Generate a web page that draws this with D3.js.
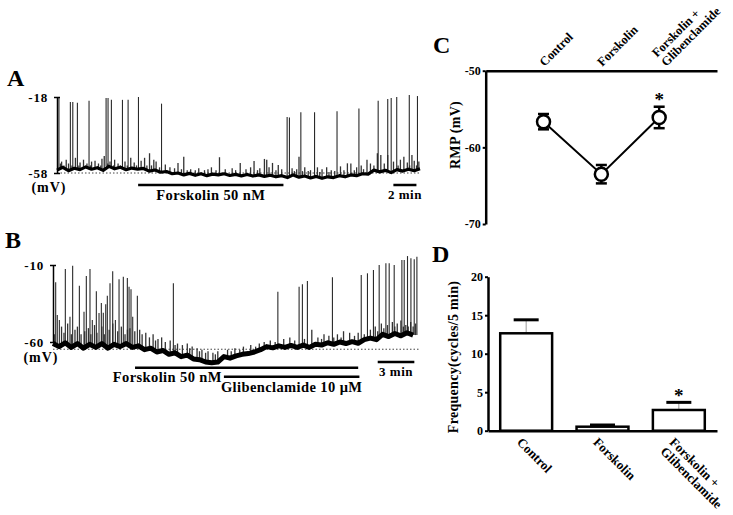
<!DOCTYPE html>
<html>
<head>
<meta charset="utf-8">
<script src="https://cdn.jsdelivr.net/npm/d3@7/dist/d3.min.js"></script>
<style>
  html, body { margin: 0; padding: 0; background: #fff; }
  svg { display: block; }
  text { font-family: "Liberation Serif", "Times New Roman", serif; font-weight: bold; fill: #000; }
</style>
</head>
<body>
<svg id="chart" width="733" height="515"></svg>
<script>
// ---------------- DATA ----------------
// Panel A: membrane potential trace (mV), baseline sampled every 0.5 min
const stepA = 0.5;
const baseA = [-56.5,-55.0,-56.8,-55.5,-56.2,-54.8,-56.0,-55.2,-56.6,-54.5,-55.8,-55.0,-56.3,-55.4,-56.0,-55.6,
  -57.0,-56.4,-57.6,-57.2,-58.4,-58.0,-59.0,-58.2,-59.2,-58.4,-59.4,-58.6,-59.0,-58.4,-59.3,-58.7,
  -59.5,-58.8,-59.6,-59.0,-59.8,-59.2,-60.0,-59.4,-60.4,-59.0,-60.2,-59.6,-60.6,-59.8,-60.8,-60.0,
  -60.4,-59.4,-60.0,-59.0,-59.4,-58.4,-58.6,-56.5,-57.4,-56.6,-57.8,-56.2,-57.0,-56.0,-56.8,-55.8];
// action potentials: [time (min), peak (mV)]
const spikesA = [[0.17,-18.5],[1.16,-20.6],[1.37,-20.6],[1.77,-21],[2.78,-20],[4.26,-18.5],[4.43,-18.5],
  [4.72,-19.5],[5.68,-19.5],[6.17,-19.5],[7.07,-18],[9.07,-21.5],
  [19.97,-28.5],[20.17,-28.8],[21.16,-26],[22.35,-26],[24.3,-25.5],[26.2,-24],[27.87,-20],[28.7,-19],
  [29.0,-18.5],[29.48,-18],[30.57,-17],[31.28,-17.5]];
// small depolarisations: [time (min), peak (mV)]
const smallA = [[0.3,-53],[0.4,-52],[0.6,-54],[0.8,-51],[1.0,-53],[1.3,-54],[1.6,-50],[1.9,-54],[2.0,-52.5],[2.3,-51],[2.6,-53],[2.9,-54],[3.0,-52],[3.3,-51.5],
  [3.6,-53],[3.8,-54],[3.9,-50.5],[4.1,-49],[4.4,-53],[4.6,-52],[4.9,-54],[5.0,-51],[5.3,-53],[5.5,-54],[5.9,-52],[6.1,-54],[6.4,-50],[6.7,-52.5],[6.9,-54],[7.3,-51.5],
  [7.6,-50],[7.8,-54],[8.03,-47.6],[8.2,-54],[8.4,-51],[8.6,-52],[8.9,-55],[9.4,-53.5],[9.8,-55],[10.2,-55.5],[10.5,-52.7],[10.8,-56],[11.0,-49.4],
  [11.3,-56.5],[11.6,-56],[12.0,-56.5],[12.3,-55.5],[12.8,-56.5],[13.1,-56],[13.4,-55],[13.8,-56.5],[14.1,-49.7],[14.6,-56],[15.2,-55.5],[15.5,-56.5],[15.9,-52.7],[16.4,-56],
  [16.8,-55],[17.1,-51.7],[17.4,-56.5],[17.6,-55.5],[18.0,-50.6],[18.2,-51],[18.4,-55],[18.7,-52.7],[19.0,-56.5],[19.2,-53.8],[19.5,-56],
  [20.4,-55.5],[20.6,-57],[20.8,-56],[21.0,-49.4],[21.3,-57],[21.5,-55],[21.8,-57],[22.0,-56.5],[22.6,-55],[22.8,-57.5],[23.0,-56],[23.4,-55],[23.6,-57.5],[23.8,-56.5],
  [24.1,-57],[24.6,-54.5],[24.9,-56.5],[25.2,-52.9],[25.5,-53],[25.8,-56.5],[26.0,-55],[26.4,-54],[26.6,-56],[26.9,-51],[27.2,-53],[27.5,-54],[27.8,-47.6],[28.1,-48.5],
  [28.4,-53],[28.7,-48.5],[29.2,-52],[29.6,-54],[29.8,-51],[30.1,-49.4],[30.4,-52.5],[30.6,-54],[30.8,-48.5],[31.0,-51.5],[31.2,-54],[31.4,-52]];
const drugsA = [{label: "Forskolin 50 nM", start: 7.04, end: 19.65}];
const scaleBarA = {label: "2 min", start: 29.19, dur: 2};
const ticksA = [-18, -58];
const dottedA = -58;

// Panel B
const stepB = 0.5;
const baseB = [-61,-63,-60.5,-63.5,-61,-64,-61.5,-63.5,-61,-64,-61.5,-63,-61,-63.5,
  -62.5,-65,-64,-66.5,-65.5,-68,-67,-69.5,-68.5,-71,-71.5,-73,-73.5,-73,-69.5,-70.5,
  -69,-68,-67.5,-66.5,-65,-63,-63.8,-62.5,-63.5,-62.2,-63.5,-62,-63.5,-61.5,-62,-60.5,
  -61.5,-60,-61,-59.8,-60.8,-58.5,-57.5,-58.5,-55,-56.5,-54.5,-56,-54,-55.5];
const spikesB = [[0.22,-21.2],[0.35,-42.5],[0.52,-45.7],[1.01,-12.6],[1.39,-43.6],[1.61,-10.5],[2.16,-23.4],
  [2.54,-40.3],[2.73,-17.1],[3.03,-12.6],[3.22,-45.7],[3.55,-27.1],[3.77,-41.2],[3.96,-34.7],[4.12,-41],
  [4.32,-35.5],[4.45,-29.9],[4.67,-21.9],[4.89,-14.1],[5.11,-45.7],[5.41,-19.3],[5.76,-17.6],[6.09,-18.4],
  [6.23,-24.1],[6.39,-25.8],[6.53,-43.6],[6.91,-29.9],[9.86,-21.9],[18.42,-27.3],[20.16,-24.1],[20.43,-22.5],
  [20.84,-20.4],[22.89,-18],[25.25,-16.5],[25.76,-15.4],[26.25,-13.2],[26.72,-10],[27.27,-8.9],[27.54,-8.9],
  [27.95,-10],[28.58,-6.8],[28.77,-6.8],[29.04,-4.2],[29.32,-5.6],[29.59,-6.3],[29.81,-4.6]];
const smallB = [[0.1,-55],[0.7,-50],[0.9,-54],[1.2,-48],[1.5,-55],[1.8,-52],[2.0,-50],[2.3,-55],[2.6,-53],[2.9,-51],[3.1,-55],[3.4,-49],[3.6,-54],
  [4.0,-50],[4.2,-55],[4.6,-52],[4.9,-48],[5.3,-53],[5.6,-50],[5.9,-55],[6.1,-52],[6.3,-51],[6.7,-53],[7.1,-52],[7.3,-55],
  [7.6,-54],[7.9,-57],[8.2,-55],[8.4,-59],[8.6,-58],[8.9,-57],[9.2,-60],[9.6,-59],[10.0,-62],[10.2,-61],[10.6,-62],[11.0,-61],
  [11.2,-64],[11.4,-63],[11.8,-64],[12.0,-66],[12.2,-65],[12.5,-67],[12.7,-66],[13.1,-67],[13.3,-68],[13.5,-66],[14.3,-65],[14.6,-66],[14.9,-64],[15.3,-65],[15.6,-63],
  [16.2,-62],[16.6,-63],[16.9,-61],[17.3,-60],[17.8,-59],[18.2,-60],[18.9,-58],[19.4,-57],[19.8,-59],[20.6,-58],[21.2,-52],[21.7,-57],[22.0,-58],[22.2,-55],
  [22.6,-56],[23.0,-57],[23.3,-55],[23.6,-57],[23.8,-53],[24.3,-54],[24.7,-56],[25.0,-54],[25.5,-55],[26.0,-52],[26.4,-50],[26.6,-53],[26.9,-48],
  [27.1,-51],[27.4,-49],[27.8,-47],[28.0,-50],[28.2,-48],[28.5,-46],[28.7,-50],[28.9,-49],[29.1,-50],[29.3,-47],[29.5,-50],[29.7,-48]];
const drugsB = [{label: "Forskolin 50 nM", start: 6.72, end: 25.0},
                {label: "Glibenclamide 10 \u03bcM", start: 14.0, end: 25.1}];
const scaleBarB = {label: "3 min", start: 26.6, dur: 3};
const ticksB = [-10, -60];
const dottedB = -64.7;

// Panel C: resting membrane potential
const categories = [["Control"], ["Forskolin"], ["Forskolin +", "Glibenclamide"]];
const catKeys = ["Control", "Forskolin", "Forskolin + Glibenclamide"];
const rmpMean = [-56.65, -63.5, -56.1];
const rmpErr = [1.0, 1.2, 1.4];
const rmpSig = [false, false, true];
const ticksC = [-50, -60, -70];

// Panel D: frequency
const freqMean = [12.65, 0.52, 2.69];
const freqErr = [1.75, 0.22, 0.99];
const freqSig = [false, false, true];
const ticksD = [0, 5, 10, 15, 20];

// ---------------- DRAWING ----------------
const svg = d3.select("#chart");
svg.append("rect").attr("width", 733).attr("height", 515).attr("fill", "#fff");
const hyph = d => String(d);

function panelLetter(t, x, y) {
  svg.append("text").attr("x", x).attr("y", y).attr("font-size", 24).text(t);
}
panelLetter("A", 7, 86);
panelLetter("B", 5, 248);
panelLetter("C", 433, 53);
panelLetter("D", 432, 262);

function trace(cfg) {
  const g = svg.append("g");
  const {x, y, base, step, spikes, small, ticks, dotted, drugs, scaleBar} = cfg;
  const footAt = t => base[Math.min(base.length - 1, Math.round(t / step))];
  g.append("line").attr("x1", x.range()[0]).attr("x2", 420)
    .attr("y1", y(dotted)).attr("y2", y(dotted))
    .attr("stroke", "#444").attr("stroke-width", 1).attr("stroke-dasharray", "1.5,2");
  g.selectAll(".sm").data(small).join("line")
    .attr("x1", d => x(d[0])).attr("x2", d => x(d[0]))
    .attr("y1", d => y(footAt(d[0]))).attr("y2", d => y(d[1]))
    .attr("stroke", "#333").attr("stroke-width", 1.3);
  g.selectAll(".sp").data(spikes).join("line")
    .attr("x1", d => x(d[0])).attr("x2", d => x(d[0]))
    .attr("y1", d => y(footAt(d[0]))).attr("y2", d => y(d[1]))
    .attr("stroke", "#2a2a2a").attr("stroke-width", 1.1);
  const line = d3.line().x((d, i) => x(i * step)).y(d => y(d));
  g.append("path").attr("d", line(base)).attr("fill", "none")
    .attr("stroke", "#000").attr("stroke-width", cfg.bw).attr("stroke-linejoin", "round");
  const ax = g.append("g").attr("transform", `translate(${x.range()[0]},0)`)
    .call(d3.axisLeft(y).tickValues(ticks).tickFormat(hyph).tickSize(3).tickSizeOuter(0).tickPadding(6));
  ax.select(".domain").attr("stroke-width", 1.5);
  ax.selectAll(".tick line").attr("x1", -3).attr("x2", 3).attr("stroke-width", 1.5);
  ax.selectAll(".tick text").attr("font-size", 13).attr("letter-spacing", 0.8)
    .attr("font-family", "Liberation Serif, serif").attr("font-weight", "bold");
  g.append("text").attr("x", cfg.mvX).attr("y", cfg.mvY).attr("text-anchor", "middle")
    .attr("font-size", 14).attr("letter-spacing", 1).text("(mV)");
  drugs.forEach((d, i) => {
    const yy = cfg.barY[i];
    g.append("line").attr("x1", x(d.start)).attr("x2", x(d.end)).attr("y1", yy).attr("y2", yy)
      .attr("stroke", "#000").attr("stroke-width", 2.5);
    const lab = g.append("text").attr("y", cfg.labY[i]).attr("font-size", 14.5)
      .attr("letter-spacing", 0.4).text(d.label);
    if (cfg.labMode[i] === "middle") lab.attr("x", (x(d.start) + x(d.end)) / 2).attr("text-anchor", "middle");
    else lab.attr("x", x(drugs[1].start) - 2).attr("text-anchor", "end");
  });
  const sx0 = x(scaleBar.start), sx1 = x(scaleBar.start + scaleBar.dur);
  g.append("line").attr("x1", sx0).attr("x2", sx1).attr("y1", cfg.sbY).attr("y2", cfg.sbY)
    .attr("stroke", "#000").attr("stroke-width", 2.5);
  g.append("text").attr("x", (sx0 + sx1) / 2).attr("y", cfg.sbY + 14).attr("text-anchor", "middle")
    .attr("font-size", 13).attr("letter-spacing", 0.5).text(scaleBar.label);
}

trace({
  x: d3.scaleLinear().domain([0, 31.5]).range([57, 420]),
  y: d3.scaleLinear().domain([-58, -18]).range([173, 97]),
  base: baseA, step: stepA, spikes: spikesA, small: smallA, ticks: ticksA, dotted: dottedA,
  drugs: drugsA, scaleBar: scaleBarA, bw: 3.2,
  mvX: 49, mvY: 192, barY: [185], labY: [200], labMode: ["middle"], sbY: 185
});

trace({
  x: d3.scaleLinear().domain([0, 29.9]).range([53, 418]),
  y: d3.scaleLinear().domain([-60, -10]).range([342, 265]),
  base: baseB, step: stepB, spikes: spikesB, small: smallB, ticks: ticksB, dotted: dottedB,
  drugs: drugsB, scaleBar: scaleBarB, bw: 5,
  mvX: 41, mvY: 362, barY: [367.7, 376.7], labY: [382, 392], labMode: ["end", "middle"], sbY: 362
});

// ---------- Panel C ----------
{
  const x = d3.scalePoint().domain(catKeys).range([485.7, 717]).padding(1);
  const y = d3.scaleLinear().domain([-70, -50]).range([224, 70.7]);
  const g = svg.append("g");
  const ay = g.append("g").attr("transform", "translate(485.7,0)")
    .call(d3.axisLeft(y).tickValues(ticksC).tickFormat(hyph).tickSize(3).tickSizeOuter(0).tickPadding(2));
  ay.select(".domain").attr("stroke-width", 2.5);
  ay.selectAll(".tick line").attr("stroke-width", 2);
  ay.selectAll(".tick text").attr("font-size", 12).attr("font-family", "Liberation Serif, serif").attr("font-weight", "bold");
  const at = g.append("g").attr("transform", `translate(0,${y(-50)})`)
    .call(d3.axisTop(x).tickSize(0).tickSizeOuter(0).tickFormat(""));
  at.select(".domain").attr("stroke-width", 2.5);
  categories.forEach((lines, i) => {
    const cx = x(catKeys[i]);
    const xoff = lines.length > 1 ? 7 : 1;
    const t = g.append("text").attr("transform", `translate(${cx + xoff},67) rotate(-45)`)
      .attr("font-size", 12.5);
    lines.forEach((l, j) => t.append("tspan").attr("x", 0).attr("y", (j - (lines.length - 1)) * 13).text(l));
  });
  g.append("text").attr("transform", `translate(460,135) rotate(-90)`)
    .attr("text-anchor", "middle").attr("font-size", 14).attr("letter-spacing", 0.3).text("RMP (mV)");
  g.append("path").attr("d", d3.line().x((d, i) => x(catKeys[i])).y(d => y(d))(rmpMean))
    .attr("fill", "none").attr("stroke", "#000").attr("stroke-width", 2);
  rmpMean.forEach((m, i) => {
    const cx = x(catKeys[i]);
    g.append("line").attr("x1", cx).attr("x2", cx).attr("y1", y(m - rmpErr[i])).attr("y2", y(m + rmpErr[i]))
      .attr("stroke", "#000").attr("stroke-width", 2.5);
    [m - rmpErr[i], m + rmpErr[i]].forEach(v => g.append("line")
      .attr("x1", cx - 5.5).attr("x2", cx + 5.5).attr("y1", y(v)).attr("y2", y(v))
      .attr("stroke", "#000").attr("stroke-width", 2.5));
  });
  g.selectAll("circle").data(rmpMean).join("circle")
    .attr("cx", (d, i) => x(catKeys[i])).attr("cy", d => y(d)).attr("r", 6.5)
    .attr("fill", "#fff").attr("stroke", "#000").attr("stroke-width", 2.5);
  rmpMean.forEach((m, i) => {
    if (rmpSig[i]) g.append("text").attr("x", x(catKeys[i])).attr("y", y(m + rmpErr[i]) - 1)
      .attr("text-anchor", "middle").attr("font-size", 19).attr("font-weight", "normal").text("*");
  });
}

// ---------- Panel D ----------
{
  const x = d3.scaleBand().domain(catKeys).range([488, 717]).paddingInner(0.32).paddingOuter(0.16);
  const y = d3.scaleLinear().domain([0, 20]).range([430.7, 276.7]);
  const g = svg.append("g");
  freqMean.forEach((m, i) => {
    const cx = x(catKeys[i]) + x.bandwidth() / 2;
    g.append("line").attr("x1", cx).attr("x2", cx).attr("y1", y(m)).attr("y2", y(m + freqErr[i]))
      .attr("stroke", "#999").attr("stroke-width", 1);
  });
  g.selectAll("rect.bar").data(freqMean).join("rect").attr("class", "bar")
    .attr("x", (d, i) => x(catKeys[i])).attr("width", x.bandwidth())
    .attr("y", d => y(d)).attr("height", d => y(0) - y(d))
    .attr("fill", "#fff").attr("stroke", "#000").attr("stroke-width", 2.5);
  freqMean.forEach((m, i) => {
    const cx = x(catKeys[i]) + x.bandwidth() / 2;
    g.append("line").attr("x1", cx - 12.5).attr("x2", cx + 12.5)
      .attr("y1", y(m + freqErr[i])).attr("y2", y(m + freqErr[i]))
      .attr("stroke", "#000").attr("stroke-width", 3);
    if (freqSig[i]) g.append("text").attr("x", cx).attr("y", y(m + freqErr[i]) - 0.5)
      .attr("text-anchor", "middle").attr("font-size", 19).attr("font-weight", "normal").text("*");
  });
  const ay = g.append("g").attr("transform", "translate(488,0)")
    .call(d3.axisLeft(y).tickValues(ticksD).tickFormat(hyph).tickSize(3).tickSizeOuter(0).tickPadding(2));
  ay.select(".domain").attr("stroke-width", 2.5);
  ay.selectAll(".tick line").attr("stroke-width", 2);
  ay.selectAll(".tick text").attr("font-size", 12).attr("font-family", "Liberation Serif, serif").attr("font-weight", "bold");
  const ab = g.append("g").attr("transform", `translate(0,${y(0)})`)
    .call(d3.axisBottom(x).tickSize(0).tickSizeOuter(0).tickFormat(""));
  ab.select(".domain").attr("stroke-width", 2.5);
  categories.forEach((lines, i) => {
    const cx = x(catKeys[i]) + x.bandwidth() / 2;
    const t = g.append("text").attr("transform", `translate(${cx - 10},443) rotate(45)`)
      .attr("font-size", 13);
    lines.forEach((l, j) => t.append("tspan").attr("x", 0).attr("y", j * 13).text(l));
  });
  g.append("text").attr("transform", `translate(458,357) rotate(-90)`)
    .attr("text-anchor", "middle").attr("font-size", 14).attr("letter-spacing", 0.3)
    .text("Frequency(cycles/5 min)");
}
</script>
</body>
</html>
